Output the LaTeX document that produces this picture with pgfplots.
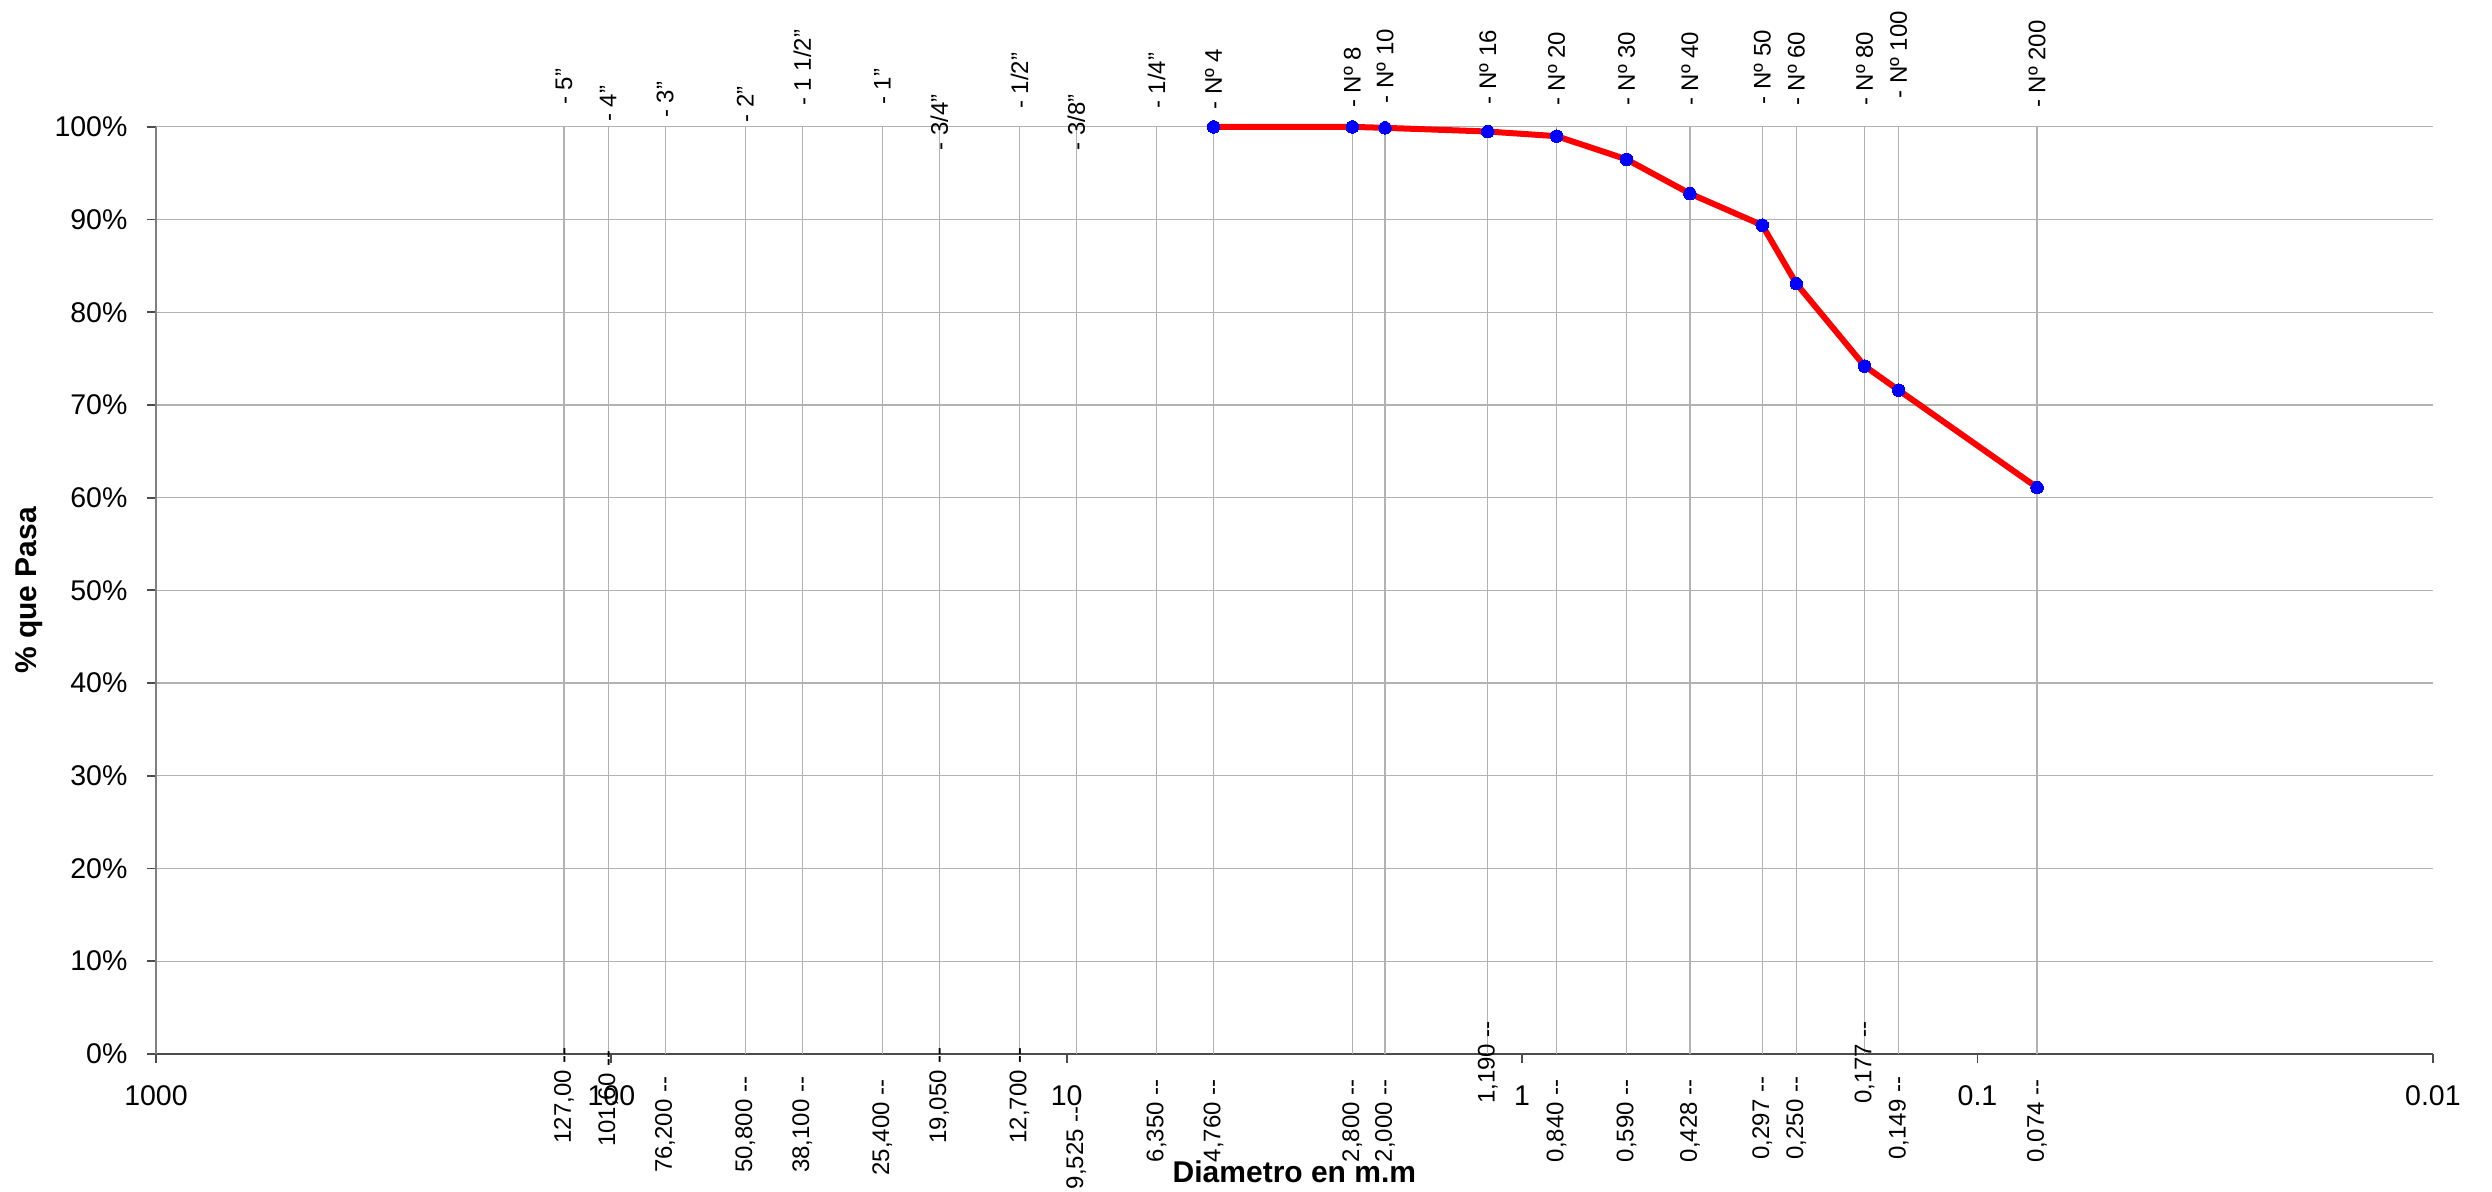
\documentclass[border=0pt]{standalone}
\usepackage{pgfplots}
\pgfplotsset{compat=1.18}
\usepackage{pgfplotstable}
\usepackage{fontspec}
\setmainfont{Liberation Sans}

\pgfplotstableread[col sep=semicolon]{
x;y;label
127;102.3;- 5"
101.6;100.5;- 4"
76.2;100.9;- 3"
50.8;100.4;- 2"
38.1;102.2;- 1 1/2"
25.4;102.3;- 1"
19.05;97.4;- 3/4"
12.7;101.9;- 1/2"
9.525;97.4;- 3/8"
6.35;101.9;- 1/4"
4.76;101.8;- Nº 4
2.36;102.0;- Nº 8
2.0;102.5;- Nº 10
1.19;102.4;- Nº 16
0.84;102.2;- Nº 20
0.59;102.2;- Nº 30
0.428;102.2;- Nº 40
0.297;102.4;- Nº 50
0.25;102.2;- Nº 60
0.177;102.2;- Nº 80
0.149;103.0;- Nº 100
0.074;102.0;- Nº 200
}\toplabels

\pgfplotstableread[col sep=semicolon]{
x;y;label
127;0.75;127,00 -{}-
101.6;0.4;101,60 -{}-
76.2;-2.4;76,200 -{}-
50.8;-2.4;50,800 -{}-
38.1;-2.4;38,100 -{}-
25.4;-2.7;25,400 -{}-
19.05;0.75;19,050 -{}-
12.7;0.75;12,700 -{}-
9.525;-5.6;9,525 -{}-
6.35;-2.7;6,350 -{}-
4.76;-2.7;4,760 -{}-
2.36;-2.7;2,800 -{}-
2.0;-2.7;2,000 -{}-
1.19;3.6;1,190 -{}-
0.84;-2.7;0,840 -{}-
0.59;-2.7;0,590 -{}-
0.428;-2.7;0,428 -{}-
0.297;-2.4;0,297 -{}-
0.25;-2.4;0,250 -{}-
0.177;3.6;0,177 -{}-
0.149;-2.4;0,149 -{}-
0.074;-2.7;0,074 -{}-
}\bottomlabels

\begin{document}
\begin{tikzpicture}
\path[use as bounding box] (-52pt,-46pt) rectangle (778.7pt,351.3pt);
\begin{axis}[
  at={(0,0)}, anchor=south west,
  scale only axis, width=759pt, height=309pt,
  xmode=log, x dir=reverse,
  xmin=0.01, xmax=1000, ymin=0, ymax=100,
  clip=false,
  axis lines*=left,
  x axis line style={draw=black!70, line width=0.8pt},
  y axis line style={draw=black!50, line width=0.9pt},
  xtick={0.01,0.1,1,10,100,1000},
  xticklabels={0.01,0.1,1,10,100,1000},
  ytick={0,10,20,30,40,50,60,70,80,90,100},
  yticklabel={\pgfmathprintnumber{\tick}\%},
  xminorticks=false, yminorticks=false,
  tick align=outside, major tick length=3pt,
  tick style={black!70, line width=0.6pt},
  /pgf/number format/assume math mode=true,
  tick label style={font=\fontsize{9.5}{11}\selectfont},
  xticklabel style={yshift=-4pt},
  yticklabel style={xshift=-3pt},
  ymajorgrids,
  grid style={black!30, line width=0.4pt},
  extra x ticks={127,101.6,76.2,50.8,38.1,25.4,19.05,12.7,9.525,6.35,4.76,2.36,2.0,1.19,0.84,0.59,0.428,0.297,0.25,0.177,0.149,0.074},
  extra x tick labels={},
  extra x tick style={grid=major, major tick length=0pt},
  xlabel={Diametro en m.m},
  xlabel style={at={(axis description cs:0.5,-0.127)}, anchor=center, font=\bfseries\fontsize{10}{12}\selectfont},
  ylabel={\% que Pasa},
  ylabel style={at={(axis description cs:-0.0558,0.5)}, anchor=center, font=\bfseries\fontsize{10}{12}\selectfont},
]
\addplot[red, line width=2pt, mark=*, mark size=2.1pt,
  mark options={draw=blue, fill=blue, line width=0pt}]
  coordinates {(4.76,100) (2.36,100) (2.0,99.9) (1.19,99.5) (0.84,99.0) (0.59,96.5)
  (0.428,92.8) (0.297,89.4) (0.25,83.1) (0.177,74.2) (0.149,71.6) (0.074,61.1)};

\addplot[draw=none, mark=none, forget plot, nodes near coords, point meta=explicit symbolic,
  every node near coord/.append style={rotate=90, anchor=west, inner sep=0pt,
  font=\fontsize{8}{9}\selectfont, text=black}]
  table[x=x, y=y, meta=label] {\toplabels};

\addplot[draw=none, mark=none, forget plot, nodes near coords, point meta=explicit symbolic,
  every node near coord/.append style={rotate=90, anchor=east, inner sep=0pt,
  font=\fontsize{8}{9}\selectfont, text=black}]
  table[x=x, y=y, meta=label] {\bottomlabels};
\end{axis}
\end{tikzpicture}
\end{document}
